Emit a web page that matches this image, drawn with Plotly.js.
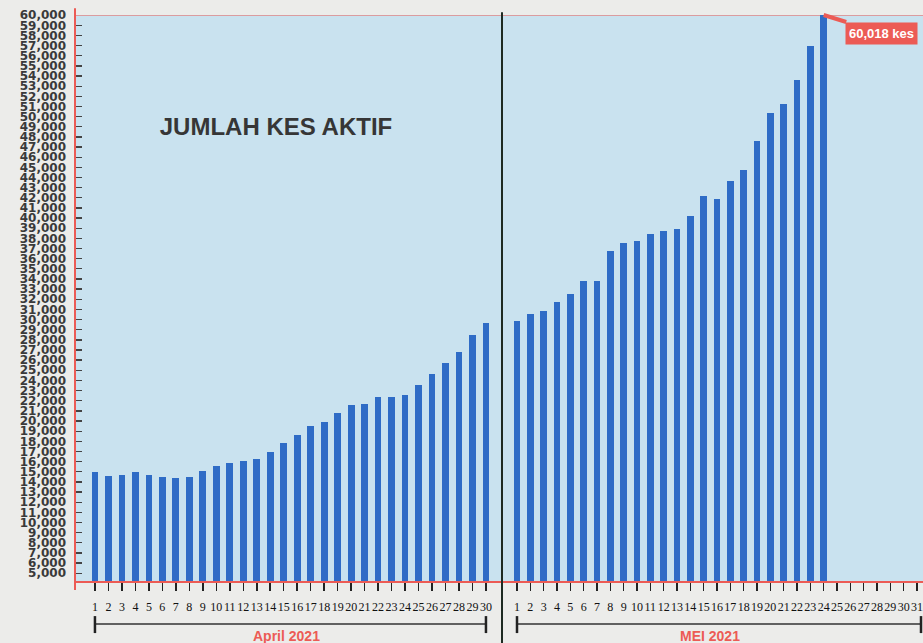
<!DOCTYPE html>
<html>
<head>
<meta charset="utf-8">
<script src="https://cdn.plot.ly/plotly-3.0.1.min.js"></script>
<style>html,body{margin:0;padding:0;background:#ececea;}#chart{width:923px;height:643px;}</style>
</head>
<body>
<div id="chart"></div>
<script>
// April 2021 active cases (day 1..30)
const aprilDays = [1,2,3,4,5,6,7,8,9,10,11,12,13,14,15,16,17,18,19,20,21,22,23,24,25,26,27,28,29,30];
const aprilVals = [14926,14561,14690,14926,14660,14530,14364,14495,15054,15517,15843,16040,16267,16897,17814,18603,19522,19916,20801,21530,21658,22378,22378,22545,23531,24586,25670,26755,28460,29613];
// May 2021 active cases (day 1..24); axis labels run to 31
const mayDays = [1,2,3,4,5,6,7,8,9,10,11,12,13,14,15,16,17,18,19,20,21,22,23,24];
const mayVals = [29840,30530,30800,31780,32500,33780,33780,36770,37560,37725,38385,38710,38880,40220,42190,41865,43640,44790,47610,50400,51230,53650,56930,60018];
const mayAxisDays = [1,2,3,4,5,6,7,8,9,10,11,12,13,14,15,16,17,18,19,20,21,22,23,24,25,26,27,28,29,30,31];
const titleText = "JUMLAH KES AKTIF";
const aprilLabel = "April 2021";
const mayLabel = "MEI 2021";
const calloutText = "60,018 kes";

const barColor = "#2f6cc6";
const red = "#ec5b55";
const splitX = (502 - 75) / 848;

const traces = [
  {type: "bar", x: aprilDays, y: aprilVals, xaxis: "x", yaxis: "y",
   marker: {color: barColor}, width: 0.5, hoverinfo: "x+y"},
  {type: "bar", x: mayDays, y: mayVals, xaxis: "x2", yaxis: "y",
   marker: {color: barColor}, width: 0.5, hoverinfo: "x+y"}
];

const xCommon = {
  tickmode: "array", tickangle: 0,
  ticks: "outside", ticklen: 8, tickwidth: 1.5, tickcolor: "#222",
  tickfont: {family: "Liberation Serif", size: 12, color: "#111"},
  ticklabelstandoff: 6,
  showgrid: false, zeroline: false,
  showline: true, linecolor: red, linewidth: 2,
  fixedrange: true
};

const lastMay = mayVals[mayVals.length - 1];
const lastMayDay = mayDays[mayDays.length - 1];

const layout = {
  width: 923, height: 643,
  margin: {l: 75, r: 0, t: 15, b: 62},
  paper_bgcolor: "#ececea",
  plot_bgcolor: "#c9e2ef",
  showlegend: false,
  bargap: 0,
  title: {text: titleText, x: 276/923, xanchor: "center", y: 1 - 127/643, yanchor: "middle",
          font: {family: "Liberation Sans", size: 24, weight: "bold", color: "#363636"}},
  xaxis: Object.assign({}, xCommon, {domain: [0, splitX], range: [-0.48, 31.19], anchor: "y",
          tickvals: aprilDays, ticktext: aprilDays.map(String)}),
  xaxis2: Object.assign({}, xCommon, {domain: [splitX, 1], range: [-0.125, 31.45], anchor: "y",
          tickvals: mayAxisDays, ticktext: mayAxisDays.map(String)}),
  yaxis: {
    range: [4230, 60020], tickmode: "linear", tick0: 0, dtick: 1000,
    tickformat: ",d",
    ticks: "inside", ticklen: 7, tickwidth: 1.3, tickcolor: "#444",
    tickfont: {family: "DejaVu Sans", size: 12, weight: "bold", color: "#3a3a3a"},
    ticklabelstandoff: 8,
    showgrid: false, zeroline: false, showline: false,
    fixedrange: true
  },
  shapes: [
    {type: "line", xref: "paper", yref: "paper", x0: 0, x1: 0, y0: -0.016, y1: 1.012,
     line: {color: red, width: 2}},
    {type: "line", xref: "paper", yref: "y", x0: 0, x1: 1, y0: lastMay, y1: lastMay,
     line: {color: red, width: 1}, layer: "below"},
    {type: "line", xref: "paper", yref: "paper", x0: splitX, x1: splitX, y0: -0.11, y1: 1.005,
     line: {color: "#1e2a22", width: 2}},
    {type: "line", xref: "x", yref: "paper", x0: aprilDays[0], x1: aprilDays[aprilDays.length-1], y0: -0.076, y1: -0.076,
     line: {color: "#333", width: 1.3}},
    {type: "line", xref: "x", yref: "paper", x0: aprilDays[0], x1: aprilDays[0], y0: -0.062, y1: -0.092,
     line: {color: "#222", width: 2.5}},
    {type: "line", xref: "x", yref: "paper", x0: aprilDays[aprilDays.length-1], x1: aprilDays[aprilDays.length-1], y0: -0.062, y1: -0.092,
     line: {color: "#222", width: 2.5}},
    {type: "line", xref: "x2", yref: "paper", x0: mayAxisDays[0], x1: 31.3, y0: -0.076, y1: -0.076,
     line: {color: "#333", width: 1.3}},
    {type: "line", xref: "x2", yref: "paper", x0: mayAxisDays[0], x1: mayAxisDays[0], y0: -0.062, y1: -0.092,
     line: {color: "#222", width: 2.5}},
    {type: "line", xref: "x2", yref: "paper", x0: 31.3, x1: 31.3, y0: -0.062, y1: -0.092,
     line: {color: "#222", width: 2.5}}
  ],
  annotations: [
    {text: aprilLabel, xref: "x", yref: "paper", x: 15.2, y: -0.098, yanchor: "middle",
     showarrow: false, font: {family: "Liberation Sans", size: 14, weight: "bold", color: red}},
    {text: mayLabel, xref: "x2", yref: "paper", x: 15.5, y: -0.097, yanchor: "middle",
     showarrow: false, font: {family: "Liberation Sans", size: 14, weight: "bold", color: red}},
    {text: calloutText, xref: "x2", yref: "y", x: lastMayDay, y: lastMay,
     showarrow: true, arrowhead: 0, arrowwidth: 4, arrowcolor: red, ax: 58, ay: 18,
     bgcolor: red, borderpad: 3, font: {family: "Liberation Sans", size: 13, weight: "bold", color: "#ffffff"}}
  ]
};

Plotly.newPlot("chart", traces, layout, {displayModeBar: false, staticPlot: true});
</script>
</body>
</html>
